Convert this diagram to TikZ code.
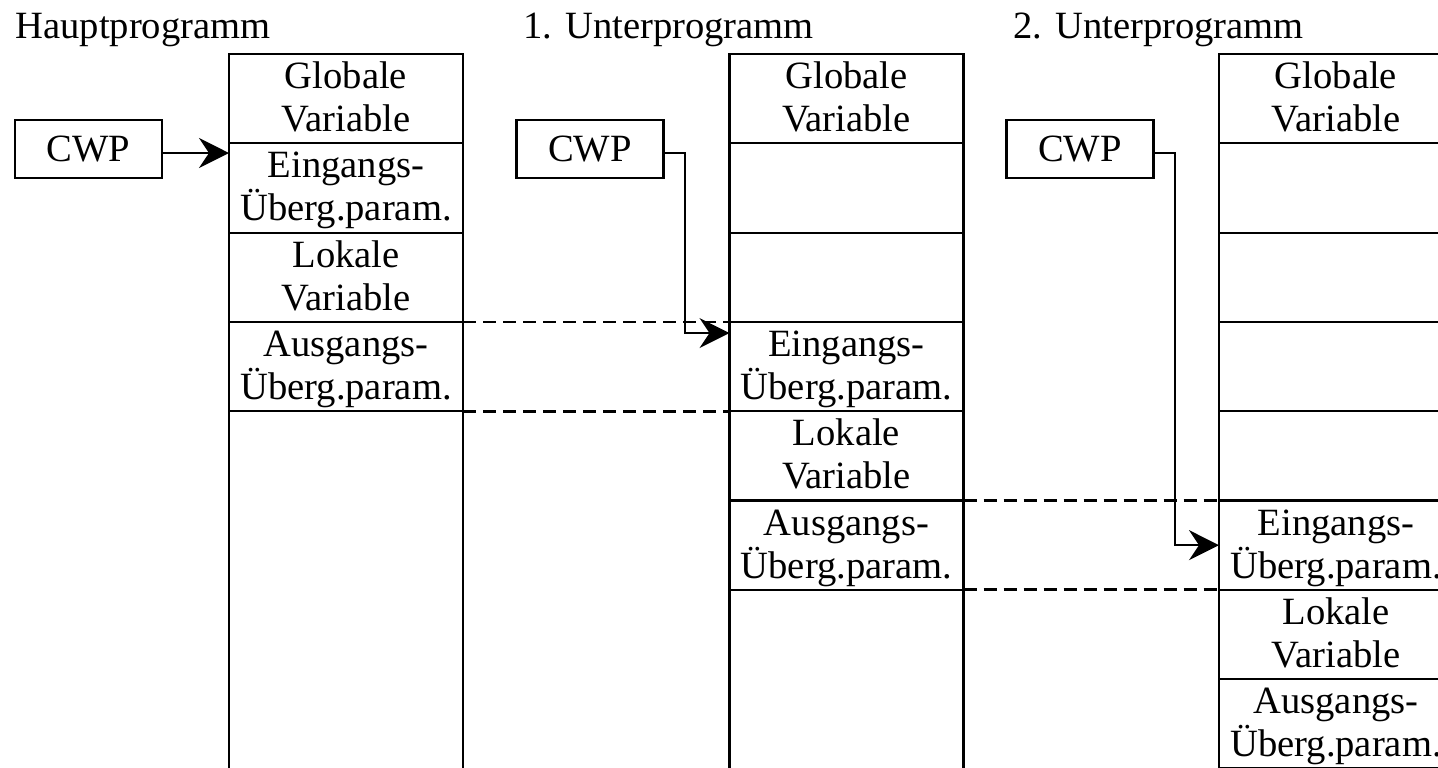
\documentclass[tikz,border=0pt]{standalone}
\usepackage{fontspec}
\setmainfont{Liberation Serif}
\usetikzlibrary{arrows.meta}
% two centred lines with equal height and depth, so every cell sets its baselines alike
\newcommand\twolines[2]{\vphantom{Ügp}#1\\\vphantom{Ügp}#2}
\begin{document}
\begin{tikzpicture}[x=0.5pt,y=-0.5pt,
  txt/.style={font=\fontsize{19.3}{21.5}\selectfont, inner sep=0pt},
  cell/.style={txt, draw, line width=1.1pt, minimum width=117pt, minimum height=44.65pt, outer sep=0pt, align=center},
  tail/.style={cell, minimum height=#1},
  cwpbox/.style={txt, draw, line width=1.1pt, minimum width=73.5pt, minimum height=29pt, outer sep=0pt},
  link/.style={line width=1pt, -{Stealth[length=15pt,width=15pt,inset=5pt]}},
  pass/.style={line width=1.4pt, dash pattern=on 6.5pt off 3.5pt}]
\useasboundingbox (0,0) rectangle (1438,767);
\clip (0,0) rectangle (1438,767);

% headings
\node[txt, anchor=base west] (tmain) at (15,38) {Hauptprogramm};
\node[txt, anchor=base west] (tsub1) at (523,38) {1. Unterprogramm};
\node[txt, anchor=base west] (tsub2) at (1013,38) {2. Unterprogramm};

% stack of the main program
\node[cell] (h1) at (346,98.65) {\twolines{Globale}{Variable}};
\node[cell] (h2) at (346,187.95) {\twolines{Eingangs-}{Überg.param.}};
\node[cell] (h3) at (346,277.25) {\twolines{Lokale}{Variable}};
\node[cell] (h4) at (346,366.55) {\twolines{Ausgangs-}{Überg.param.}};
\node[tail=209.4pt] (h5) at (346,620.6) {};

% stack of the first subroutine
\node[cell] (u1) at (846.5,98.65) {\twolines{Globale}{Variable}};
\node[cell] (u2) at (846.5,187.95) {};
\node[cell] (u3) at (846.5,277.25) {};
\node[cell] (u4) at (846.5,366.55) {\twolines{Eingangs-}{Überg.param.}};
\node[cell] (u5) at (846.5,455.85) {\twolines{Lokale}{Variable}};
\node[cell] (u6) at (846.5,545.15) {\twolines{Ausgangs-}{Überg.param.}};
\node[tail=120.1pt] (u7) at (846.5,709.9) {};

% stack of the second subroutine
\node[cell] (v1) at (1336,98.65) {\twolines{Globale}{Variable}};
\node[cell] (v2) at (1336,187.95) {};
\node[cell] (v3) at (1336,277.25) {};
\node[cell] (v4) at (1336,366.55) {};
\node[cell] (v5) at (1336,455.85) {};
\node[cell] (v6) at (1336,545.15) {\twolines{Eingangs-}{Überg.param.}};
\node[cell] (v7) at (1336,634.45) {\twolines{Lokale}{Variable}};
\node[cell] (v8) at (1336,723.75) {\twolines{Ausgangs-}{Überg.param.}};

% current workspace pointers
\node[cwpbox] (cwp1) at (88.5,149) {CWP};
\node[cwpbox] (cwp2) at (590,149) {CWP};
\node[cwpbox] (cwp3) at (1080,149) {CWP};

\coordinate (s1) at ([yshift=-2pt]cwp1.east);
\coordinate (s2) at ([yshift=-2pt]cwp2.east);
\coordinate (s3) at ([yshift=-2pt]cwp3.east);
\coordinate (e2) at ([yshift=16.75pt]u4.west);

\draw[link] (s1) -- (s1 -| h2.west);
\draw[link] (s2) -- ++(21,0) |- (e2);
\draw[link] (s3) -- ++(21,0) |- (v6.west);

% parameter areas shared between caller and callee
\draw[pass] (h4.north east) -- (u4.north west);
\draw[pass] (h4.south east) -- (u4.south west);
\draw[pass] (u6.north east) -- (v6.north west);
\draw[pass] (u6.south east) -- (v6.south west);
\end{tikzpicture}
\end{document}
